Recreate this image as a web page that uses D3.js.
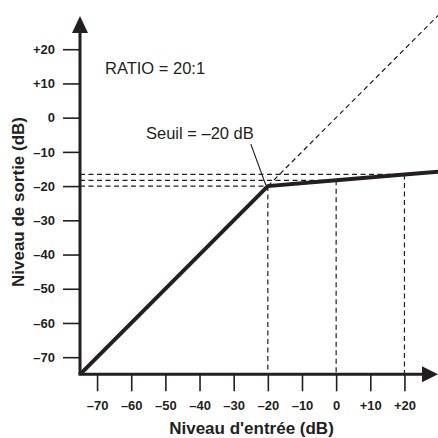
<!DOCTYPE html>
<html>
<head>
<meta charset="utf-8">
<script src="https://cdn.jsdelivr.net/npm/d3@7"></script>
<style>
body{margin:0;background:#fff;}
text{font-family:"Liberation Sans",Arial,sans-serif;fill:#231f20;}
</style>
</head>
<body>
<div id="chart"></div>
<script>
var w=438;
var h=438;

// compressor transfer curve (input dB -> output dB)
var inputLevels=[-75,-20,0,20,30];
var outputLevels=[-75,-20,-18.3,-16.6,-15.8];
// unity reference line above threshold
var refInput=[-20,30];
var refOutput=[-20,30];
// guide lines
var markerInputs=[-20,0,20];
var tickValues=[-70,-60,-50,-40,-30,-20,-10,0,10,20];
var tickLabels=["–70","–60","–50","–40","–30","–20","–10","0","+10","+20"];

var ink="#231f20";

var svg=d3.select("#chart").append("svg")
          .attr("width",w)
          .attr("height",h);

var x=d3.scaleLinear().domain([-75,30]).range([80,438.6]);
var y=d3.scaleLinear().domain([-75,30]).range([374.3,15]);

function outAt(v){
  var i=inputLevels.indexOf(v);
  return outputLevels[i];
}
function fmt(d){return tickLabels[tickValues.indexOf(d)];}

// dashed guides
var guides=svg.append("g")
  .attr("stroke",ink).attr("stroke-width",1.2)
  .attr("stroke-dasharray","5,3.5").attr("fill","none");

markerInputs.forEach(function(v){
  guides.append("line")
    .attr("x1",x(v)).attr("x2",x(v))
    .attr("y1",y(outAt(v))).attr("y2",y(-75));
  guides.append("line")
    .attr("x1",x(-75)).attr("x2",x(v))
    .attr("y1",y(outAt(v))).attr("y2",y(outAt(v)));
});

guides.append("line")
  .attr("x1",x(refInput[0])).attr("y1",y(refOutput[0]))
  .attr("x2",x(refInput[1])).attr("y2",y(refOutput[1]));

// axes
var xAxis=d3.axisBottom(x).tickValues(tickValues).tickSize(17).tickPadding(9).tickFormat(fmt);
var yAxis=d3.axisLeft(y).tickValues(tickValues).tickSize(17).tickPadding(8).tickFormat(fmt);

var gx=svg.append("g").attr("transform","translate(0,"+y(-75)+")").call(xAxis);
var gy=svg.append("g").attr("transform","translate("+x(-75)+",0)").call(yAxis);
[gx,gy].forEach(function(g){
  g.select(".domain").remove();
  g.selectAll(".tick line").attr("stroke",ink).attr("stroke-width",1.6);
  g.selectAll(".tick text")
    .attr("fill",ink)
    .style("font-size","13px")
    .style("font-weight","bold");
});

// axis lines with arrows
svg.append("line")
  .attr("x1",x(-75)).attr("y1",y(-75))
  .attr("x2",x(-75)).attr("y2",30)
  .attr("stroke",ink).attr("stroke-width",3);
svg.append("line")
  .attr("x1",x(-75)-1.5).attr("y1",y(-75))
  .attr("x2",424).attr("y2",y(-75))
  .attr("stroke",ink).attr("stroke-width",3);
svg.append("path")
  .attr("d","M"+x(-75)+",16L"+(x(-75)+8)+",33L"+(x(-75)-8)+",33Z")
  .attr("fill",ink);
svg.append("path")
  .attr("d","M438,"+y(-75)+"L422,"+(y(-75)-8)+"L422,"+(y(-75)+8)+"Z")
  .attr("fill",ink);

// transfer curve
var line=d3.line()
  .x(function(d,i){return x(inputLevels[i]);})
  .y(function(d,i){return y(outputLevels[i]);});
svg.append("path")
  .datum(inputLevels)
  .attr("d",line)
  .attr("fill","none")
  .attr("stroke",ink)
  .attr("stroke-width",4)
  .attr("stroke-linejoin","miter");

// annotations
svg.append("text")
  .attr("x",105).attr("y",74)
  .style("font-size","16.5px")
  .text("RATIO = 20:1");

svg.append("text")
  .attr("x",146).attr("y",139)
  .style("font-size","16.5px")
  .text("Seuil = –20 dB");

svg.append("line")
  .attr("x1",x(-20)-17).attr("y1",y(-20)-42)
  .attr("x2",x(-20)-2).attr("y2",y(-20)-1)
  .attr("stroke",ink).attr("stroke-width",1.2);

// axis titles
svg.append("text")
  .attr("x",251.5).attr("y",434)
  .attr("text-anchor","middle")
  .style("font-size","17px").style("font-weight","bold")
  .text("Niveau d'entrée (dB)");

svg.append("text")
  .attr("transform","translate(24,202) rotate(-90)")
  .attr("text-anchor","middle")
  .style("font-size","17px").style("font-weight","bold")
  .text("Niveau de sortie (dB)");
</script>
</body>
</html>
